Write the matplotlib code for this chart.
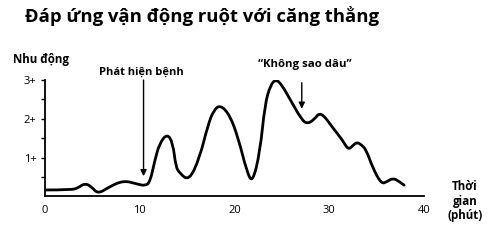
import matplotlib
matplotlib.use("Agg")
import matplotlib.pyplot as plt
from matplotlib.path import Path
from matplotlib.patches import PathPatch

# Data
time_min = [0, 2.8, 3.5, 4.2, 4.9, 5.6, 6.8, 8.3, 9.7, 10.6, 11.1, 11.6, 12.1, 12.9,
            13.5, 13.8, 14.2, 15.2, 16.3, 17.2, 17.8, 18.5, 19.5, 20.4, 21.3, 21.9,
            22.7, 23.2, 23.8, 24.4, 25.0, 25.8, 27.1, 27.7, 28.4, 29.1, 30.4, 31.4,
            32.0, 32.5, 32.9, 33.4, 33.9, 34.6, 35.5, 36.1, 36.7, 37.3, 37.9]
motility = [0.165, 0.165, 0.22, 0.34, 0.25, 0.06, 0.25, 0.41, 0.32, 0.27, 0.38, 0.94,
            1.37, 1.62, 1.37, 0.77, 0.60, 0.40, 0.98, 1.84, 2.22, 2.36, 2.10, 1.50,
            0.64, 0.34, 1.16, 2.36, 2.88, 3.02, 2.87, 2.53, 1.97, 1.87, 1.98, 2.19,
            1.76, 1.45, 1.20, 1.31, 1.40, 1.33, 1.20, 0.73, 0.32, 0.38, 0.47, 0.40, 0.29]
x_ticks = [0, 10, 20, 30, 40]
y_ticks = [1, 2, 3]
y_tick_labels = ["1+", "2+", "3+"]
y_minor = [0.5, 1.5, 2.5]

title = "Đáp ứng vận động ruột với căng thẳng"
ylabel = "Nhu động"
xlabel = "Thời\ngian\n(phút)"
ann1 = "Phát hiện bệnh"
ann2 = "\u201cKhông sao dâu\u201d"

plt.rcParams['font.family'] = ['Open Sans', 'DejaVu Sans']

fig = plt.figure(figsize=(5.0, 2.47), dpi=100)
ax = fig.add_axes([0.09, 0.205, 0.758, 0.471])

# smooth rendering: data points used as quadratic spline control points
pts = list(zip(time_min, motility))
verts = [pts[0]]
codes = [Path.MOVETO]
for i in range(1, len(pts) - 2):
    mid = ((pts[i][0] + pts[i + 1][0]) / 2, (pts[i][1] + pts[i + 1][1]) / 2)
    verts += [pts[i], mid]
    codes += [Path.CURVE3, Path.CURVE3]
verts += [pts[-2], pts[-1]]
codes += [Path.CURVE3, Path.CURVE3]
ax.add_patch(PathPatch(Path(verts, codes), facecolor='none', edgecolor='black',
                       lw=2.0, joinstyle='round', capstyle='round'))

ax.set_xlim(0, 40)
ax.set_ylim(0, 3)
ax.spines['top'].set_visible(False)
ax.spines['right'].set_visible(False)
ax.spines['left'].set_linewidth(1.3)
ax.spines['bottom'].set_linewidth(1.3)
ax.set_xticks(x_ticks)
ax.set_xticklabels([str(t) for t in x_ticks], fontsize=8)
ax.tick_params(axis='x', length=0, pad=6)
ax.set_yticks(y_ticks)
ax.set_yticklabels(y_tick_labels, fontsize=8)
ax.set_yticks(y_minor, minor=True)
ax.tick_params(axis='y', which='both', length=3, width=1, direction='out', pad=3)

ax.annotate("", xy=(10.4, 0.52), xytext=(10.4, 3.0),
            arrowprops=dict(arrowstyle='-|>', color='black', lw=1.0,
                            mutation_scale=9, shrinkA=0, shrinkB=0))
ax.text(10.2, 3.2, ann1, ha='center', va='center', fontsize=8, fontweight='bold',
        clip_on=False)
ax.annotate("", xy=(27.1, 2.26), xytext=(27.1, 2.93),
            arrowprops=dict(arrowstyle='-|>', color='black', lw=1.0,
                            mutation_scale=9, shrinkA=0, shrinkB=0))
ax.text(27.4, 3.39, ann2, ha='center', va='center', fontsize=8.2, fontweight='bold',
        clip_on=False)

fig.text(25 / 500, 1 - 16 / 247, title, ha='left', va='center', fontsize=13.3,
         fontweight='bold')
fig.text(13 / 500, 1 - 60 / 247, ylabel, ha='left', va='center', fontsize=8.3,
         fontweight='bold')
fig.text(465 / 500, 1 - 201 / 247, xlabel, ha='center', va='center', fontsize=8.3,
         fontweight='bold', linespacing=1.15)

fig.savefig("out.png", dpi=100)
